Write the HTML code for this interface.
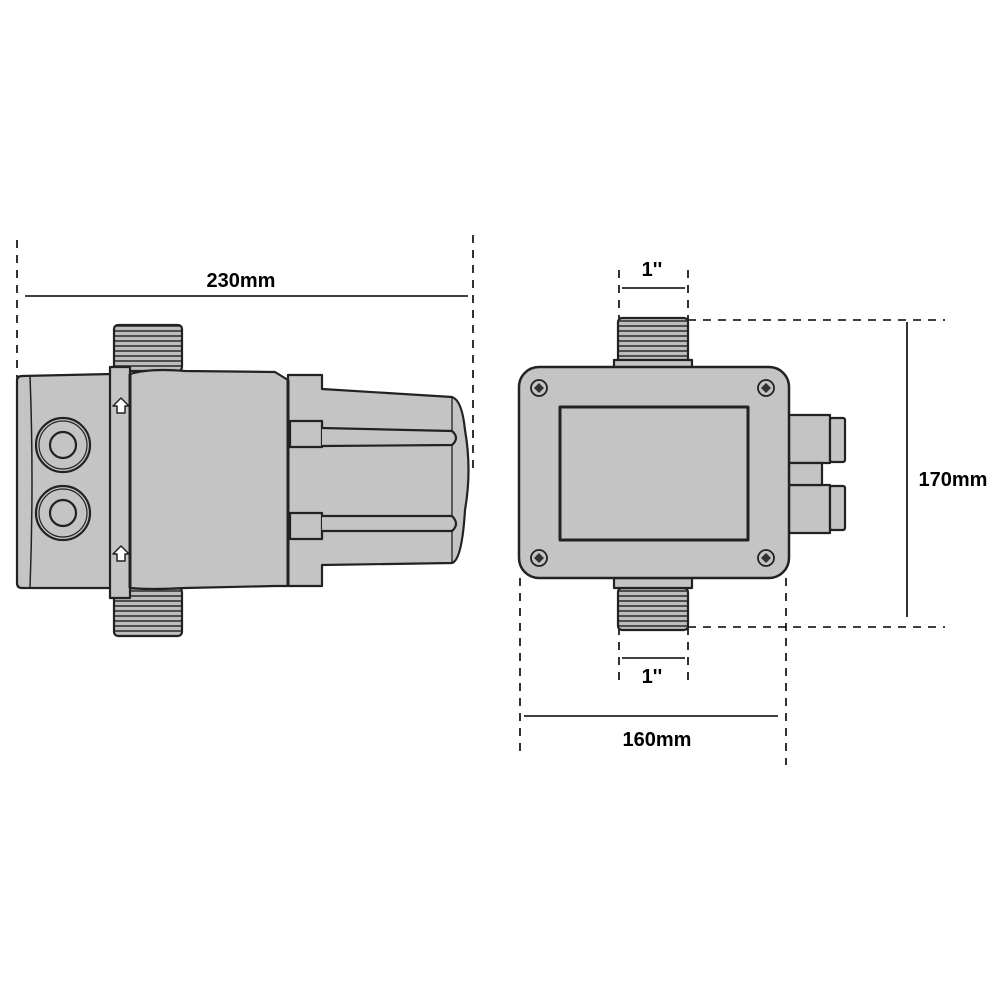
<!DOCTYPE html>
<html><head><meta charset="utf-8"><style>
html,body{margin:0;padding:0;background:#fff;}
svg{display:block}
text{font-family:"Liberation Sans",Arial,sans-serif;font-weight:bold;fill:#000;}
</style></head><body>
<svg width="1000" height="1000" viewBox="0 0 1000 1000" xmlns="http://www.w3.org/2000/svg">
<defs>
<pattern id="thr" width="10" height="5" patternUnits="userSpaceOnUse">
<rect width="10" height="5" fill="#bdbdbd"/><line x1="0" y1="1" x2="10" y2="1" stroke="#333" stroke-width="1.6"/>
</pattern>
</defs>
<g stroke="#000" stroke-width="1.6" fill="none" stroke-dasharray="8,7">
<line x1="17" y1="240" x2="17" y2="380"/>
<line x1="473" y1="235" x2="473" y2="470"/>
<line x1="619" y1="270" x2="619" y2="320"/>
<line x1="688" y1="270" x2="688" y2="320"/>
<line x1="688" y1="320" x2="945" y2="320"/>
<line x1="688" y1="627" x2="945" y2="627"/>
<line x1="619" y1="627" x2="619" y2="680"/>
<line x1="688" y1="627" x2="688" y2="680"/>
<line x1="520" y1="578" x2="520" y2="752"/>
<line x1="786" y1="578" x2="786" y2="765"/>
</g>
<g stroke="#000" stroke-width="1.6">
<line x1="25" y1="296" x2="468" y2="296"/>
<line x1="622" y1="288" x2="685" y2="288"/>
<line x1="622" y1="658" x2="685" y2="658"/>
<line x1="907" y1="322" x2="907" y2="617"/>
<line x1="524" y1="716" x2="778" y2="716"/>
</g>
<text x="241" y="287" font-size="20" text-anchor="middle">230mm</text>
<text x="652" y="276" font-size="20" text-anchor="middle">1''</text>
<text x="652" y="683" font-size="20" text-anchor="middle">1''</text>
<text x="953" y="486" font-size="20" text-anchor="middle">170mm</text>
<text x="657" y="746" font-size="20" text-anchor="middle">160mm</text>

<!-- LEFT VIEW -->
<g stroke="#222" stroke-width="2.2" stroke-linejoin="round">
<rect x="114" y="325" width="68" height="46" rx="4" fill="url(#thr)"/>
<rect x="114" y="588" width="68" height="48" rx="4" fill="url(#thr)"/>
<path d="M288 380 L288 375 L322 375 L322 389 L452 397 Q462 400 465 430 Q472 470 465 510 Q462 560 452 563 L322 565 L322 586 L288 586 Z" fill="#c4c4c4"/>
<path d="M130 374 Q150 368 185 371 L275 372 L288 380 L288 586 L275 586 L185 588 Q150 590 130 588 Z" fill="#c4c4c4"/>
<path d="M22 376 L112 374 L112 588 L22 588 Q17 588 17 583 L17 381 Q17 376 22 376 Z" fill="#c4c4c4"/>
<path d="M30 376 Q34 480 30 588" fill="none" stroke-width="1.5"/>
<rect x="110" y="367" width="20" height="231" fill="#c4c4c4"/>
<line x1="130" y1="374" x2="130" y2="588" stroke-width="3"/>
<line x1="288" y1="380" x2="288" y2="586" stroke-width="3"/>
<line x1="452" y1="397" x2="452" y2="563" stroke-width="1.3"/>
<rect x="290" y="421" width="32" height="26" fill="#c4c4c4"/>
<rect x="290" y="513" width="32" height="26" fill="#c4c4c4"/>
<path d="M322 428 L452 431 Q460 438 452 445 L322 446" fill="#c4c4c4"/>
<path d="M322 516 L452 516 Q460 524 452 531 L322 531" fill="#c4c4c4"/>
<circle cx="63" cy="445" r="27" fill="#c4c4c4"/>
<circle cx="63" cy="445" r="24" fill="none" stroke-width="1.2"/>
<circle cx="63" cy="445" r="13" fill="#c4c4c4"/>
<circle cx="63" cy="513" r="27" fill="#c4c4c4"/>
<circle cx="63" cy="513" r="24" fill="none" stroke-width="1.2"/>
<circle cx="63" cy="513" r="13" fill="#c4c4c4"/>
<path d="M117 413 L117 406 L113 406 L121 398 L129 406 L125 406 L125 413 Z" fill="#fff" stroke-width="1.5"/>
<path d="M117 561 L117 554 L113 554 L121 546 L129 554 L125 554 L125 561 Z" fill="#fff" stroke-width="1.5"/>
</g>

<!-- RIGHT VIEW -->
<g stroke="#222" stroke-width="2.2" stroke-linejoin="round">
<rect x="618" y="318" width="70" height="44" rx="4" fill="url(#thr)"/>
<rect x="614" y="360" width="78" height="9" fill="#c4c4c4"/>
<rect x="618" y="588" width="70" height="42" rx="4" fill="url(#thr)"/>
<rect x="614" y="578" width="78" height="10" fill="#c4c4c4"/>
<rect x="789" y="415" width="41" height="48" fill="#c4c4c4"/>
<rect x="789" y="485" width="41" height="48" fill="#c4c4c4"/>
<rect x="789" y="463" width="33" height="22" fill="#c4c4c4"/>
<rect x="830" y="418" width="15" height="44" rx="2" fill="#c4c4c4"/>
<rect x="830" y="486" width="15" height="44" rx="2" fill="#c4c4c4"/>
<rect x="519" y="367" width="270" height="211" rx="20" fill="#c4c4c4" stroke-width="2.5"/>
<rect x="560" y="407" width="188" height="133" fill="#c4c4c4" stroke-width="3"/>
<g fill="#c4c4c4" stroke-width="1.8">
<circle cx="539" cy="388" r="8"/><circle cx="766" cy="388" r="8"/>
<circle cx="539" cy="558" r="8"/><circle cx="766" cy="558" r="8"/>
</g>
<g fill="#333" stroke="none">
<path d="M539 383 L544 388 L539 393 L534 388Z"/><path d="M766 383 L771 388 L766 393 L761 388Z"/>
<path d="M539 553 L544 558 L539 563 L534 558Z"/><path d="M766 553 L771 558 L766 563 L761 558Z"/>
</g>
</g>
</svg>
</body></html>
